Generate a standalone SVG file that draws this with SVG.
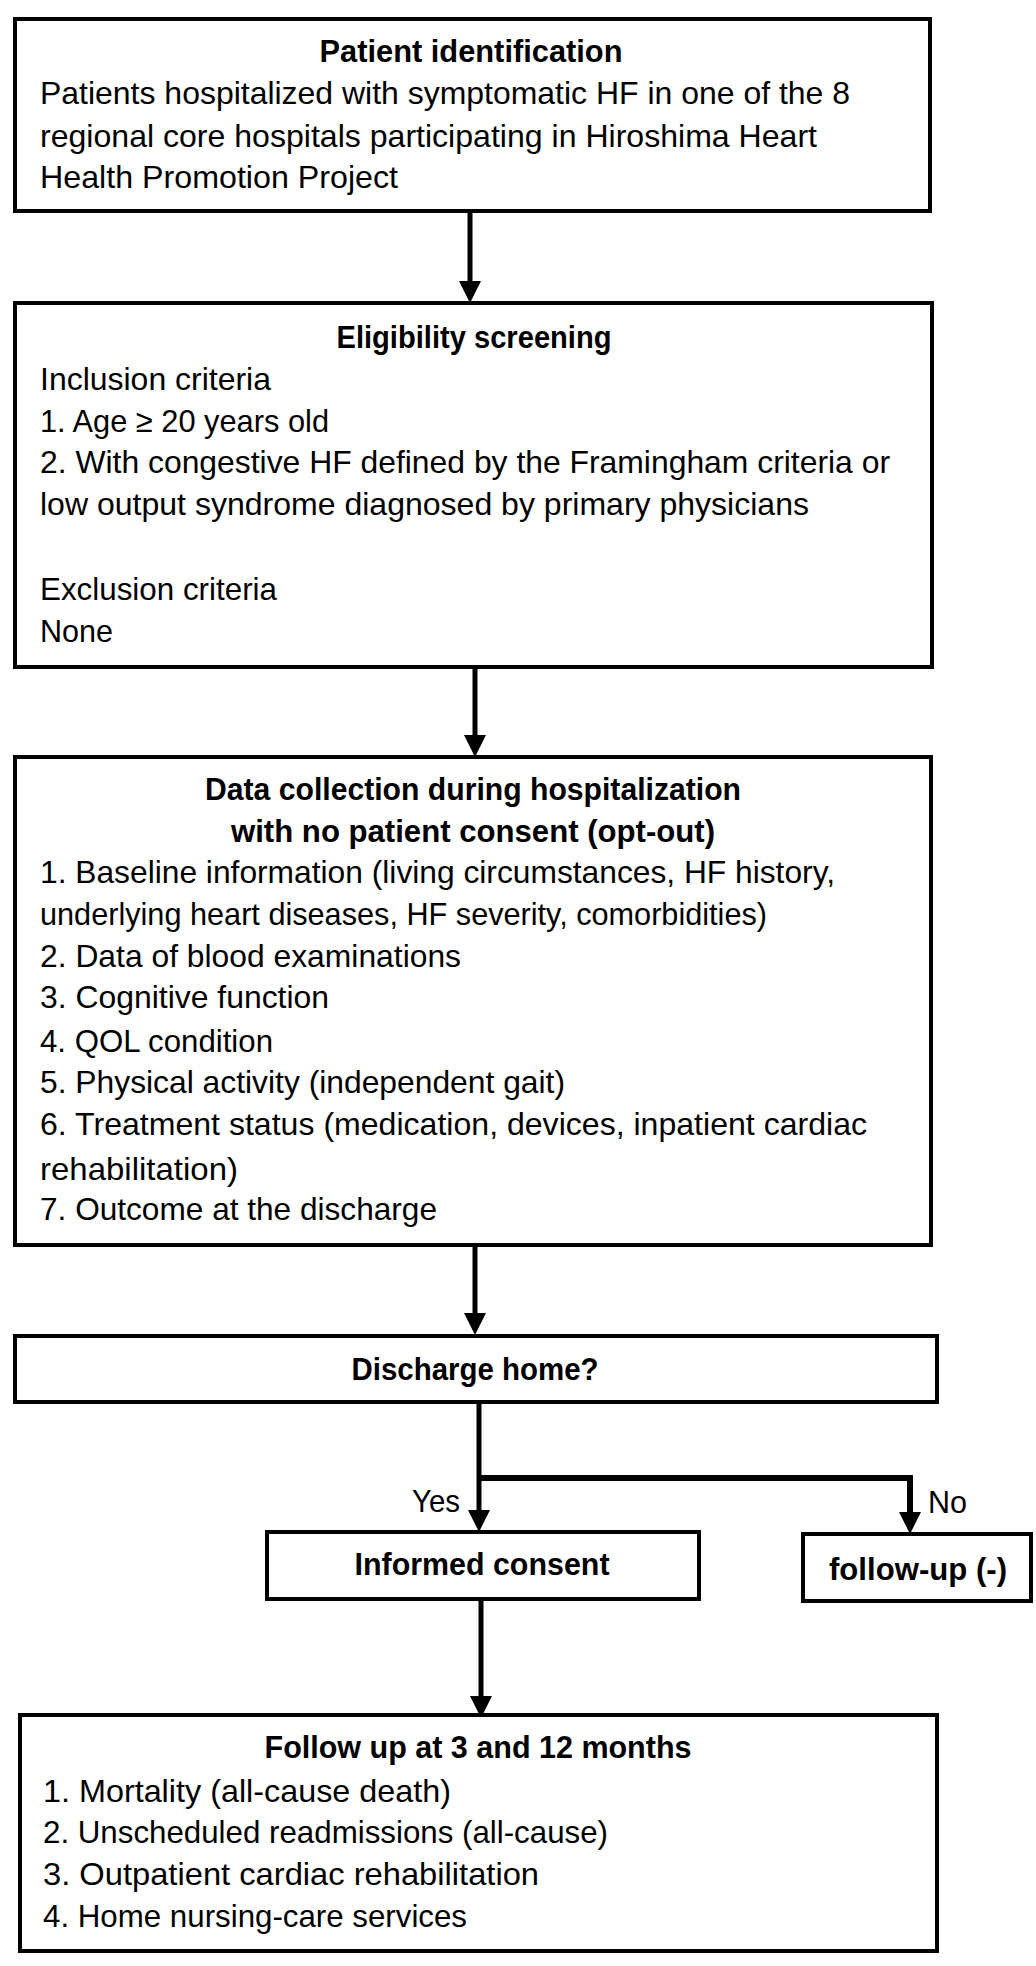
<svg xmlns="http://www.w3.org/2000/svg" width="1036" height="1966" viewBox="0 0 1036 1966">
<style>
.box{fill:#fff;stroke:#000;stroke-width:4}
.t{font-family:"Liberation Sans",Arial,sans-serif;font-size:32px;fill:#000}
.b{font-weight:bold;text-anchor:middle}
.c{fill:none;stroke:#000;stroke-width:5}
</style>
<defs>
<marker id="ah" viewBox="0 0 22 22" markerWidth="22" markerHeight="22" refX="12" refY="11" orient="auto" markerUnits="userSpaceOnUse">
<path d="M0,0 L22,11 L0,22 z" fill="#000"/>
</marker>
</defs>
<rect width="1036" height="1966" fill="#fff"/>
<g id="connectors">
<path class="c" d="M470,211 L470,293" marker-end="url(#ah)"/>
<path class="c" d="M475,667 L475,747" marker-end="url(#ah)"/>
<path class="c" d="M475,1245 L475,1325" marker-end="url(#ah)"/>
<path class="c" d="M479,1402 L479,1522" marker-end="url(#ah)"/>
<path class="c" style="stroke-width:6" d="M479,1478 L910,1478 L910,1524" marker-end="url(#ah)"/>
<path class="c" d="M481,1599 L481,1708" marker-end="url(#ah)"/>
<text class="t" x="412" y="1512" textLength="48" lengthAdjust="spacingAndGlyphs">Yes</text>
<text class="t" x="928" y="1513" textLength="39" lengthAdjust="spacingAndGlyphs">No</text>
</g>
<g id="patient-identification">
<rect class="box" x="15" y="19" width="915" height="192"/>
<text class="t b" x="471" y="62" textLength="303" lengthAdjust="spacingAndGlyphs">Patient identification</text>
<text class="t" x="40" y="104" textLength="810" lengthAdjust="spacingAndGlyphs">Patients hospitalized with symptomatic HF in one of the 8</text>
<text class="t" x="40" y="147" textLength="777" lengthAdjust="spacingAndGlyphs">regional core hospitals participating in Hiroshima Heart</text>
<text class="t" x="40" y="188" textLength="358" lengthAdjust="spacingAndGlyphs">Health Promotion Project</text>
</g>
<g id="eligibility-screening">
<rect class="box" x="15" y="303" width="917" height="364"/>
<text class="t b" x="474" y="348" textLength="275" lengthAdjust="spacingAndGlyphs">Eligibility screening</text>
<text class="t" x="40" y="390" textLength="231" lengthAdjust="spacingAndGlyphs">Inclusion criteria</text>
<text class="t" x="40" y="432" textLength="289" lengthAdjust="spacingAndGlyphs">1. Age ≥ 20 years old</text>
<text class="t" x="40" y="473" textLength="850" lengthAdjust="spacingAndGlyphs">2. With congestive HF defined by the Framingham criteria or</text>
<text class="t" x="40" y="515" textLength="769" lengthAdjust="spacingAndGlyphs">low output syndrome diagnosed by primary physicians</text>
<text class="t" x="40" y="600" textLength="237" lengthAdjust="spacingAndGlyphs">Exclusion criteria</text>
<text class="t" x="40" y="642" textLength="73" lengthAdjust="spacingAndGlyphs">None</text>
</g>
<g id="data-collection">
<rect class="box" x="15" y="757" width="916" height="488"/>
<text class="t b" x="473" y="800" textLength="536" lengthAdjust="spacingAndGlyphs">Data collection during hospitalization</text>
<text class="t b" x="473" y="842" textLength="484" lengthAdjust="spacingAndGlyphs">with no patient consent (opt-out)</text>
<text class="t" x="40" y="883" textLength="795" lengthAdjust="spacingAndGlyphs">1. Baseline information (living circumstances, HF history,</text>
<text class="t" x="40" y="925" textLength="727" lengthAdjust="spacingAndGlyphs">underlying heart diseases, HF severity, comorbidities)</text>
<text class="t" x="40" y="967" textLength="421" lengthAdjust="spacingAndGlyphs">2. Data of blood examinations</text>
<text class="t" x="40" y="1008" textLength="289" lengthAdjust="spacingAndGlyphs">3. Cognitive function</text>
<text class="t" x="40" y="1052" textLength="233" lengthAdjust="spacingAndGlyphs">4. QOL condition</text>
<text class="t" x="40" y="1093" textLength="525" lengthAdjust="spacingAndGlyphs">5. Physical activity (independent gait)</text>
<text class="t" x="40" y="1135" textLength="827" lengthAdjust="spacingAndGlyphs">6. Treatment status (medication, devices, inpatient cardiac</text>
<text class="t" x="40" y="1180" textLength="198" lengthAdjust="spacingAndGlyphs">rehabilitation)</text>
<text class="t" x="40" y="1220" textLength="397" lengthAdjust="spacingAndGlyphs">7. Outcome at the discharge</text>
</g>
<g id="discharge-home">
<rect class="box" x="15" y="1336" width="922" height="66"/>
<text class="t b" x="475" y="1380" textLength="247" lengthAdjust="spacingAndGlyphs">Discharge home?</text>
</g>
<g id="informed-consent">
<rect class="box" x="267" y="1532" width="432" height="67"/>
<text class="t b" x="482" y="1575" textLength="255" lengthAdjust="spacingAndGlyphs">Informed consent</text>
</g>
<g id="follow-up-none">
<rect class="box" x="803" y="1534" width="228" height="67"/>
<text class="t b" x="918" y="1580" textLength="178" lengthAdjust="spacingAndGlyphs">follow-up (-)</text>
</g>
<g id="follow-up">
<rect class="box" x="20" y="1715" width="917" height="236"/>
<text class="t b" x="478" y="1758" textLength="427" lengthAdjust="spacingAndGlyphs">Follow up at 3 and 12 months</text>
<text class="t" x="43" y="1802" textLength="408" lengthAdjust="spacingAndGlyphs">1. Mortality (all-cause death)</text>
<text class="t" x="43" y="1843" textLength="565" lengthAdjust="spacingAndGlyphs">2. Unscheduled readmissions (all-cause)</text>
<text class="t" x="43" y="1885" textLength="496" lengthAdjust="spacingAndGlyphs">3. Outpatient cardiac rehabilitation</text>
<text class="t" x="43" y="1927" textLength="424" lengthAdjust="spacingAndGlyphs">4. Home nursing-care services</text>
</g>
</svg>
